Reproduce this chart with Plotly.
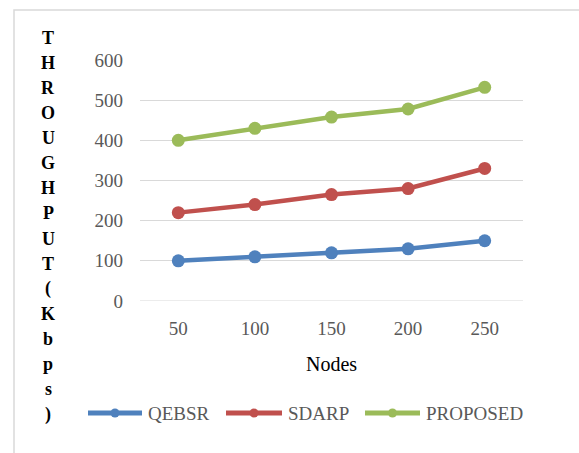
import plotly.graph_objects as go

# Throughput (Kbps) versus number of nodes for three routing schemes
nodes = ["50", "100", "150", "200", "250"]
qebsr = [100, 110, 120, 130, 150]
sdarp = [220, 240, 265, 280, 330]
proposed = [400, 430, 458, 478, 532]

y_ticks = [0, 100, 200, 300, 400, 500, 600]
y_title = "THROUGHPUT(Kbps)"
x_title = "Nodes"

names = ["QEBSR", "SDARP", "PROPOSED"]
colors = ["#4F81BD", "#C0504D", "#9BBB59"]
values = [qebsr, sdarp, proposed]

W, H = 579, 453
L, R, T, B = 140, 56, 60, 152
PW, PH = W - L - R, H - T - B


def px_x(x):
    return (x - L) / PW


def px_y(y):
    return (H - B - y) / PH


SERIF = "Liberation Serif"
fig = go.Figure()
for name, vals, color in zip(names, values, colors):
    fig.add_trace(go.Scatter(
        x=nodes, y=vals, name=name, mode="lines+markers",
        line=dict(color=color, width=4.5),
        marker=dict(color=color, size=13),
        showlegend=False,
    ))

fig.update_layout(
    width=W, height=H,
    margin=dict(l=L, r=R, t=T, b=B, pad=0),
    paper_bgcolor="white", plot_bgcolor="white",
    xaxis=dict(
        type="category", range=[-0.5, len(nodes) - 0.5],
        showgrid=False, zeroline=False, showline=False, ticks="",
        ticklabelstandoff=14,
        tickfont=dict(family=SERIF, size=19, color="#595959"),
        title=dict(text=x_title, font=dict(family=SERIF, size=20, color="black"),
                   standoff=18),
    ),
    yaxis=dict(
        range=[0, 600], tickvals=y_ticks, showgrid=True,
        gridcolor="#D9D9D9", gridwidth=1, zeroline=False, showline=False,
        ticks="", ticklabelstandoff=16,
        tickfont=dict(family=SERIF, size=19, color="#595959"),
    ),
)

# zero baseline drawn as a gridline
fig.add_shape(type="line", xref="paper", yref="y", x0=0, x1=1, y0=0, y1=0,
              line=dict(color="#D9D9D9", width=1), layer="below")

# outer chart border (top and left edges visible)
fig.add_shape(type="rect", xref="paper", yref="paper",
              x0=px_x(14), x1=px_x(W + 5), y0=px_y(H + 5), y1=px_y(10),
              line=dict(color="#D9D9D9", width=1.5), layer="below")

# stacked vertical axis title, one character per line
n = len(y_title)
top_px, bot_px = 38, 414
for i, ch in enumerate(y_title):
    py = top_px + (bot_px - top_px) * i / (n - 1)
    fig.add_annotation(
        text=ch, xref="paper", yref="paper",
        x=px_x(48), y=px_y(py),
        xanchor="center", yanchor="middle", showarrow=False,
        font=dict(family=SERIF, size=18, color="black", weight="bold"),
    )

# legend row below the plot: line sample with dot, then label
legend_y = 413
legend_slots = [(88, 142), (226, 282), (365, 420)]
for (x0, x1), name, color in zip(legend_slots, names, colors):
    fig.add_shape(type="line", xref="paper", yref="paper",
                  x0=px_x(x0), x1=px_x(x1), y0=px_y(legend_y), y1=px_y(legend_y),
                  line=dict(color=color, width=5))
    cx, r = (x0 + x1) / 2, 4.5
    fig.add_shape(type="circle", xref="paper", yref="paper",
                  x0=px_x(cx - r), x1=px_x(cx + r),
                  y0=px_y(legend_y + r), y1=px_y(legend_y - r),
                  fillcolor=color, line=dict(color=color, width=0))
    fig.add_annotation(
        text=name, xref="paper", yref="paper",
        x=px_x(x1 + 4), y=px_y(legend_y),
        xanchor="left", yanchor="middle", showarrow=False,
        font=dict(family=SERIF, size=19, color="#595959"),
    )

fig.write_html("out.html")
